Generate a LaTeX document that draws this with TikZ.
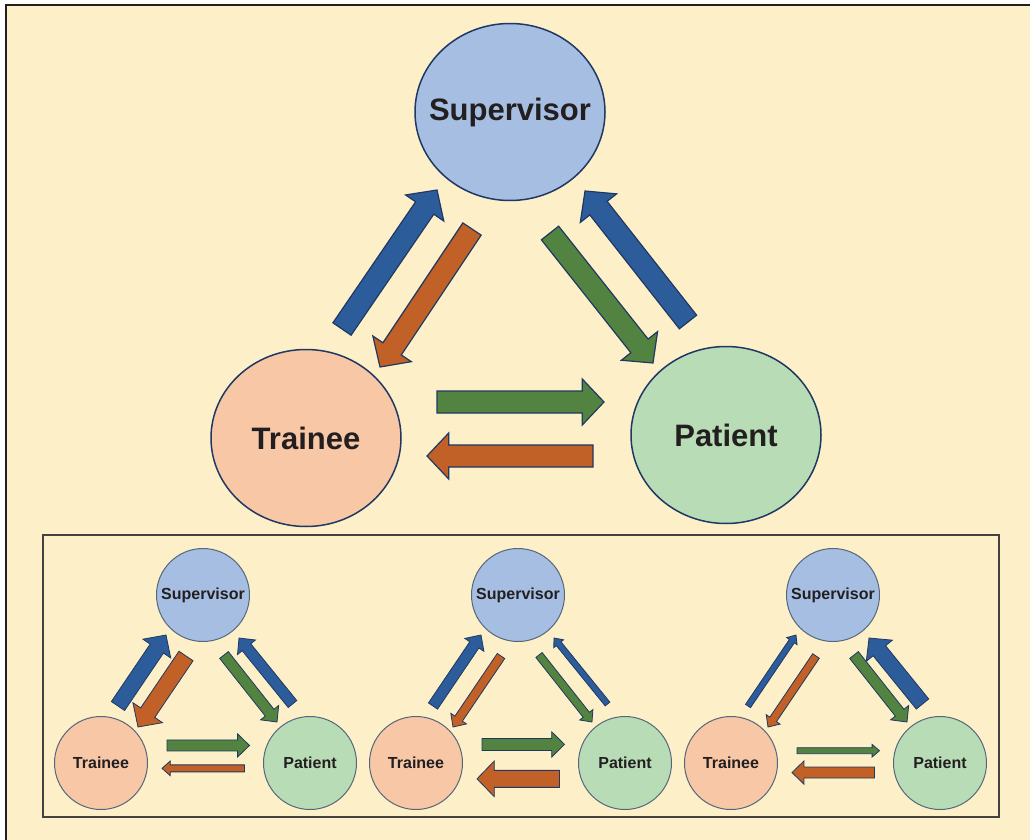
\documentclass[tikz,border=0pt]{standalone}
\usepackage{fontspec}
\setmainfont{Liberation Sans}
\usetikzlibrary{calc,shapes.geometric}
\definecolor{paper}{HTML}{FDF0C8}
\definecolor{supblue}{HTML}{A6BEE2}
\definecolor{trapeach}{HTML}{F7C7A6}
\definecolor{patgreen}{HTML}{B8DDB6}
\definecolor{ablue}{HTML}{2D5C9B}
\definecolor{aorange}{HTML}{C16027}
\definecolor{agreen}{HTML}{538340}
\definecolor{edge}{HTML}{1F3864}
\definecolor{rim}{HTML}{56677D}
\definecolor{ink}{HTML}{231F20}

% block arrow: [outline]{colour}{shaft width}{from}{to}
\newcommand{\barrow}[5][1.2pt]{%
  \pgfmathsetmacro\hw{#3/2}%
  \pgfmathsetmacro\hh{1.05*#3}%
  \pgfmathsetmacro\hl{0.9*#3+2}%
  \coordinate (bb) at ($(#5)!\hl pt!(#4)$);
  \filldraw[fill=#2, draw=edge, line width=#1, line join=miter]
    ($(#4)!\hw pt!90:(#5)$) -- ($(bb)!\hw pt!-90:(#4)$) -- ($(bb)!\hh pt!-90:(#4)$) -- (#5)
    -- ($(bb)!\hh pt!90:(#4)$) -- ($(bb)!\hw pt!90:(#4)$) -- ($(#4)!\hw pt!-90:(#5)$) -- cycle;
}

% small triangle: {x of supervisor}{tag}{T->S}{S->T}{S->P}{P->S}{T->P}{P->T}
\newcommand{\triad}[8]{%
  \node[smallnode, fill=supblue] (s#2) at (#1,595) {Supervisor};
  \node[smallnode, fill=trapeach] (t#2) at ($(s#2)+(-102,168)$) {Trainee};
  \node[smallnode, fill=patgreen] (p#2) at ($(s#2)+(107,168)$) {Patient};
  \pgfmathsetmacro\gy{-6-1.05*#7}%
  \pgfmathsetmacro\oy{-2+1.05*#8}%
  \coordinate (ts#2a) at ($(t#2)+(17,-57)$);   \coordinate (ts#2b) at ($(s#2)+(-37,40)$);
  \coordinate (st#2a) at ($(s#2)+(-17,61)$);   \coordinate (st#2b) at ($(t#2)+(37,-36)$);
  \coordinate (sp#2a) at ($(s#2)+(21,60)$);    \coordinate (sp#2b) at ($(p#2)+(-33,-41)$);
  \coordinate (ps#2a) at ($(p#2)+(-17.5,-59)$); \coordinate (ps#2b) at ($(s#2)+(36,43)$);
  \coordinate (tp#2a) at ($(t#2)+(66,\gy)$);   \coordinate (tp#2b) at ($(p#2)+(-60.5,\gy)$);
  \coordinate (pt#2a) at ($(p#2)+(-65.5,\oy)$); \coordinate (pt#2b) at ($(t#2)+(61,\oy)$);
  \barrow[0.8pt]{ablue}{#3}{ts#2a}{ts#2b}
  \barrow[0.8pt]{aorange}{#4}{st#2a}{st#2b}
  \barrow[0.8pt]{agreen}{#5}{sp#2a}{sp#2b}
  \barrow[0.8pt]{ablue}{#6}{ps#2a}{ps#2b}
  \barrow[0.8pt]{agreen}{#7}{tp#2a}{tp#2b}
  \barrow[0.8pt]{aorange}{#8}{pt#2a}{pt#2b}
}

\begin{document}
\begin{tikzpicture}[x=1pt, y=-1pt,
    bignode/.style={ellipse, draw=edge, line width=1.5pt, inner xsep=-30pt, inner ysep=0pt,
      minimum width=190pt, minimum height=177pt, text=ink,
      font=\fontsize{31}{36}\selectfont\bfseries},
    smallnode/.style={circle, draw=rim, line width=1pt, inner sep=0pt,
      minimum size=93pt, text=ink, font=\fontsize{16}{19}\selectfont\bfseries}]
  \useasboundingbox (0,0) rectangle (1030,840);
  \clip (0,0) rectangle (1030,840);
  \fill[white] (0,0) rectangle (1030,840);
  \filldraw[fill=paper, draw=ink, line width=2pt] (6,5) rectangle (1045,855);

  % main triangle
  \node[bignode, fill=supblue] (sup) at (510,112) {Supervisor};
  \node[bignode, fill=trapeach] (tra) at (306,438) {Trainee};
  \node[bignode, fill=patgreen] (pat) at (726,435) {Patient};

  \coordinate (ts1) at ($(tra)+(36,-109)$);  \coordinate (ts2) at ($(sup)+(-73,78)$);
  \coordinate (st1) at ($(sup)+(-38,117)$);  \coordinate (st2) at ($(tra)+(74,-71)$);
  \coordinate (sp1) at ($(sup)+(40,121)$);   \coordinate (sp2) at ($(pat)+(-73,-72)$);
  \coordinate (ps1) at ($(pat)+(-38,-113)$); \coordinate (ps2) at ($(sup)+(75,79)$);
  \coordinate (tp1) at ($(tra)+(131,-36)$);  \coordinate (tp2) at ($(pat)+(-122,-33)$);
  \coordinate (pt1) at ($(pat)+(-133,21)$);  \coordinate (pt2) at ($(tra)+(121,18)$);
  \barrow{ablue}{22}{ts1}{ts2}
  \barrow{aorange}{22}{st1}{st2}
  \barrow{agreen}{22}{sp1}{sp2}
  \barrow{ablue}{22}{ps1}{ps2}
  \barrow{agreen}{22}{tp1}{tp2}
  \barrow{aorange}{22}{pt1}{pt2}

  % three variants
  \draw[draw=ink!85, line width=1.2pt] (43,535) rectangle (999,817);
  \triad{203}{a}{16}{17}{11}{11}{11}{7}
  \triad{518}{b}{11}{9}{8}{6}{12}{17}
  \triad{833}{c}{6}{8}{11}{16}{6}{11}
\end{tikzpicture}
\end{document}
